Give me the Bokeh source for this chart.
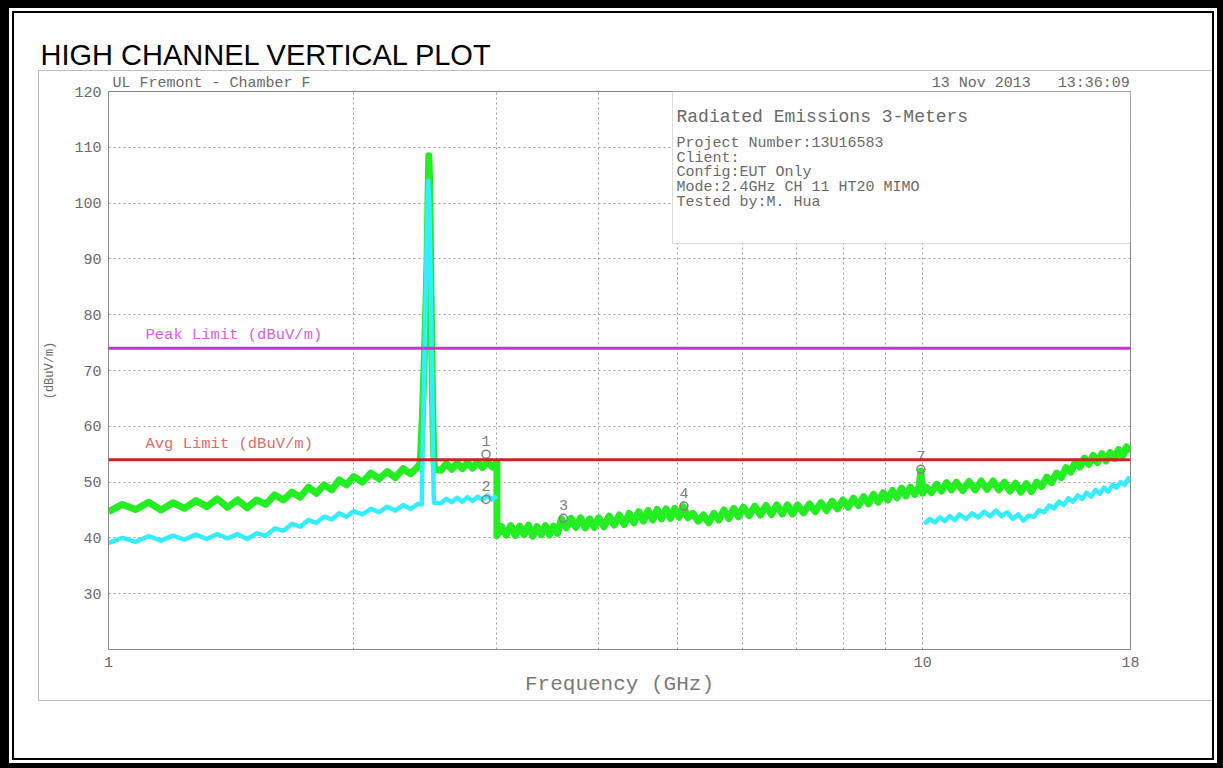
from bokeh.plotting import figure
from bokeh.models import (Range1d, FixedTicker, Label, BoxAnnotation, Span, Title,
                          GlobalInlineStyleSheet)
from bokeh.embed import file_html
from bokeh.resources import INLINE
from bokeh.core.properties import value

# ---------------- data ----------------
# Peak detector trace (green), frequency in GHz, level in dBuV/m
green_freq = [1.00, 1.04, 1.08, 1.12, 1.16, 1.20, 1.24, 1.28, 1.32, 1.36, 1.40, 1.44, 1.48,
              1.52, 1.56, 1.60, 1.64, 1.68, 1.72, 1.76, 1.80, 1.84, 1.88, 1.92, 1.96, 2.00,
              2.05, 2.10, 2.15, 2.20, 2.25, 2.30, 2.35, 2.40,
              2.415, 2.43, 2.445, 2.455, 2.462, 2.468, 2.474, 2.480, 2.488, 2.496, 2.504, 2.512, 2.52,
              2.56, 2.60, 2.64, 2.68, 2.72, 2.76, 2.80, 2.84, 2.88, 2.92, 2.96, 3.00,
              3.00, 3.04, 3.08, 3.12, 3.16, 3.20, 3.24, 3.28, 3.32, 3.36, 3.40, 3.44, 3.48, 3.52, 3.56,
              3.60, 3.65, 3.70, 3.75, 3.80, 3.85, 3.90, 3.95, 4.00, 4.06, 4.12, 4.18, 4.24, 4.30,
              4.36, 4.42, 4.48, 4.54, 4.60, 4.66, 4.72, 4.78, 4.84, 4.90, 4.96, 5.02, 5.08, 5.15,
              5.22, 5.30, 5.38, 5.46, 5.54, 5.62, 5.70, 5.78, 5.86, 5.94, 6.02, 6.12, 6.22, 6.32,
              6.42, 6.52, 6.62, 6.72, 6.82, 6.92, 7.02, 7.14, 7.26, 7.38, 7.50, 7.62, 7.74, 7.86,
              7.98, 8.10, 8.22, 8.34, 8.46, 8.58, 8.70, 8.82, 8.94, 9.06, 9.18, 9.30, 9.42, 9.54,
              9.66, 9.78, 9.90, 9.95, 10.00, 10.10, 10.25, 10.40, 10.55, 10.70, 10.85, 11.00,
              11.20, 11.40, 11.60, 11.80, 12.00, 12.20, 12.40, 12.60, 12.80, 13.00, 13.20, 13.40,
              13.60, 13.80, 14.00, 14.20, 14.40, 14.60, 14.80, 15.00, 15.20, 15.40, 15.60, 15.80,
              16.00, 16.20, 16.40, 16.60, 16.80, 17.00, 17.20, 17.40, 17.60, 17.80, 18.00]
green_level = [44.7, 46.0, 45.1, 46.4, 45.0, 46.3, 45.3, 46.7, 45.6, 47.0, 45.5, 46.8, 45.4,
               46.8, 46.0, 47.7, 46.8, 48.2, 47.3, 49.1, 48.0, 49.5, 48.6, 50.4, 49.5, 51.0,
               50.0, 51.6, 50.6, 51.9, 50.8, 52.4, 51.5, 52.8,
               53.5, 62.0, 74.0, 82.5, 90.0, 100.0, 108.5, 104.0, 88.0, 72.0, 60.0, 53.0, 52.3,
               52.1, 53.3, 52.3, 53.4, 52.4, 53.5, 52.5, 53.6, 52.6, 53.7, 52.7, 53.5,
               40.4, 42.0, 40.5, 42.2, 40.4, 42.1, 40.6, 42.3, 40.3, 42.0, 40.6, 42.2, 40.5, 42.1, 40.8,
               43.4, 41.8, 43.5, 41.9, 43.6, 41.8, 43.4, 41.9, 43.6, 42.0, 43.9, 42.3, 44.1, 42.4,
               44.4, 42.7, 44.7, 43.0, 44.9, 43.2, 45.1, 43.4, 45.2, 43.5, 45.3, 43.7, 45.6, 43.6,
               44.4, 43.0, 44.1, 42.7, 44.4, 43.2, 45.0, 43.5, 45.3, 43.8, 45.5, 44.0, 45.7, 44.1,
               45.8, 44.2, 45.9, 44.3, 45.9, 44.3, 45.9, 44.5, 46.1, 44.7, 46.3, 44.9, 46.6, 45.2,
               46.8, 45.5, 47.1, 45.8, 47.4, 46.1, 47.8, 46.4, 48.1, 46.8, 48.5, 47.2, 48.9, 47.5,
               49.1, 47.8, 49.2, 52.0, 48.0, 49.1, 48.1, 49.6, 48.4, 49.9, 48.6, 50.0,
               48.5, 50.1, 48.6, 50.2, 48.7, 50.2, 48.6, 50.0, 48.4, 49.8, 48.2, 49.7,
               48.3, 50.0, 49.2, 50.9, 49.9, 51.6, 50.8, 52.6, 51.8, 53.6, 52.7, 54.3,
               53.2, 54.8, 53.5, 55.1, 53.8, 55.3, 54.2, 55.8, 54.6, 56.3, 55.5]

# Average detector trace (cyan), 1-3 GHz part
cyan_low_freq = [1.00, 1.04, 1.08, 1.12, 1.16, 1.20, 1.24, 1.28, 1.32, 1.36, 1.40, 1.44, 1.48,
                 1.52, 1.56, 1.60, 1.64, 1.68, 1.72, 1.76, 1.80, 1.84, 1.88, 1.92, 1.96, 2.00,
                 2.05, 2.10, 2.15, 2.20, 2.25, 2.30, 2.35, 2.40,
                 2.425, 2.435, 2.450, 2.462, 2.470, 2.478, 2.488, 2.498, 2.508, 2.512,
                 2.56, 2.60, 2.64, 2.68, 2.72, 2.76, 2.80, 2.84, 2.88, 2.92, 2.96, 3.00]
cyan_low_level = [39.1, 40.0, 39.3, 40.3, 39.5, 40.4, 39.7, 40.6, 39.8, 40.7, 39.9, 40.7, 39.8,
                  40.8, 40.4, 41.7, 41.3, 42.5, 42.0, 43.2, 42.7, 43.8, 43.3, 44.4, 43.8, 44.8,
                  44.2, 45.2, 44.6, 45.6, 44.9, 45.9, 45.2, 46.1,
                  46.0, 60.0, 80.0, 96.0, 104.0, 100.0, 84.0, 66.0, 48.0, 46.3,
                  46.2, 47.0, 46.4, 47.2, 46.5, 47.3, 46.6, 47.4, 46.8, 47.6, 46.9, 47.5]

# Average detector trace (cyan), 10-18 GHz part
cyan_high_freq = [10.05, 10.20, 10.35, 10.50, 10.65, 10.80, 10.95, 11.10, 11.30, 11.50, 11.70,
                  11.90, 12.10, 12.30, 12.50, 12.70, 12.90, 13.10, 13.30, 13.50, 13.70, 13.90,
                  14.10, 14.30, 14.50, 14.70, 14.90, 15.10, 15.30, 15.50, 15.70, 15.90, 16.10,
                  16.30, 16.50, 16.70, 16.90, 17.10, 17.30, 17.50, 17.70, 17.90, 18.00]
cyan_high_level = [42.5, 43.4, 42.8, 43.7, 43.0, 43.9, 43.2, 44.2, 43.4, 44.4, 43.7,
                   44.7, 43.9, 44.9, 43.9, 44.6, 43.4, 44.2, 43.1, 44.0, 43.8, 45.0,
                   44.6, 45.8, 45.3, 46.5, 45.9, 47.1, 46.5, 47.6, 47.0, 48.1, 47.4,
                   48.6, 47.9, 49.0, 48.3, 49.5, 49.0, 50.0, 49.5, 50.7, 50.2]

peak_limit = 74.0
avg_limit = 54.0

marker_id = ["1", "2", "3", "4", "7"]
marker_freq = [2.909, 2.909, 3.62, 5.09, 9.95]
marker_level = [55.0, 46.9, 43.5, 45.7, 52.3]

y_ticks = [30, 40, 50, 60, 70, 80, 90, 100, 110, 120]
y_grid = [30, 40, 50, 60, 70, 80, 90, 100, 110]
x_ticks = [1, 10, 18]
x_tick_labels = {1: "1", 10: "10", 18: "18"}
x_grid = [2, 3, 4, 5, 6, 7, 8, 9, 10]

page_title = "HIGH CHANNEL VERTICAL PLOT"
site_text = "UL Fremont - Chamber F"
date_text = "13 Nov 2013   13:36:09"
info_title = "Radiated Emissions 3-Meters"
info_lines = ["Project Number:13U16583", "Client:", "Config:EUT Only",
              "Mode:2.4GHz CH 11 HT20 MIMO", "Tested by:M. Hua"]

# ---------------- figure ----------------
MONO = "Liberation Mono"
GREY = "#6a6a6a"
NB = "\u00a0"

page_css = """
body { margin: 0 !important; overflow: hidden; }
body::before { content: ""; position: fixed; left: 0; top: 0; width: 1223px; height: 768px;
  box-sizing: border-box; border-style: solid; border-color: #000;
  border-width: 8px 6px 5px 9px;
  box-shadow: inset 0 0 0 3px #fff, inset 0 0 0 5px #000;
  pointer-events: none; z-index: 1000; }
body::after { content: ""; position: fixed; left: 38px; top: 70px; width: 1176px; height: 631px;
  box-sizing: border-box; border: 1px solid #bdbdbd; pointer-events: none; z-index: 999; }
"""

p = figure(width=1223, height=768, x_axis_type="log",
           x_range=Range1d(1, 18), y_range=Range1d(20, 120),
           output_backend="svg", toolbar_location=None,
           min_border_left=108, min_border_right=93,
           min_border_top=91, min_border_bottom=119)
p.stylesheets = [GlobalInlineStyleSheet(css=page_css)]
p.background_fill_color = "white"
p.border_fill_color = "white"
p.outline_line_color = "#8a8a8a"
p.outline_line_width = 1

# header rows (above the frame): first added sits next to the frame
header = site_text + NB * (113 - len(site_text) - len(date_text)) + date_text.replace(" ", NB)
p.add_layout(Title(text=header, align="left", offset=4, standoff=0, vertical_align="bottom",
                   text_font=MONO, text_font_size="15px", text_color=GREY,
                   text_font_style="normal"), "above")
p.add_layout(Title(text=page_title, align="left", offset=-68, standoff=3, vertical_align="bottom",
                   text_font="Liberation Sans", text_font_size="29px", text_color="black",
                   text_font_style="normal"), "above")

# axes
p.xaxis.ticker = FixedTicker(ticks=x_ticks)
p.xaxis.major_label_overrides = x_tick_labels
p.yaxis.ticker = FixedTicker(ticks=y_ticks)
for ax in (p.xaxis[0], p.yaxis[0]):
    ax.axis_line_color = "#8a8a8a"
    ax.major_tick_line_color = None
    ax.minor_tick_line_color = None
    ax.major_tick_out = 0
    ax.major_tick_in = 0
    ax.minor_tick_out = 0
    ax.minor_tick_in = 0
    ax.major_label_text_font = MONO
    ax.major_label_text_font_size = "15px"
    ax.major_label_text_color = GREY
    ax.axis_label_text_font = MONO
    ax.axis_label_text_font_style = "normal"
    ax.axis_label_text_color = GREY
p.xaxis.major_label_standoff = 7
p.yaxis.major_label_standoff = 7
p.xaxis.axis_label = "Frequency (GHz)"
p.xaxis.axis_label_text_font_size = "21px"
p.xaxis.axis_label_text_color = "#7a7a7a"
p.xaxis.axis_label_standoff = 3
p.yaxis.axis_label = "(dBuV/m)"
p.yaxis.axis_label_text_font_size = "12px"
p.yaxis.axis_label_standoff = 14

# grid
p.xgrid.ticker = FixedTicker(ticks=x_grid)
p.ygrid.ticker = FixedTicker(ticks=y_grid)
for g in (p.xgrid[0], p.ygrid[0]):
    g.grid_line_color = "#9a9a9a"
    g.grid_line_dash = "2 3"
    g.grid_line_width = 1

# traces
p.line(green_freq, green_level, line_color="#22ee22", line_width=7, line_join="round")
p.line(cyan_low_freq, cyan_low_level, line_color="#33eeff", line_width=4.5, line_join="round")
p.line(cyan_high_freq, cyan_high_level, line_color="#33eeff", line_width=4.5, line_join="round")

# limits
p.add_layout(Span(location=peak_limit, dimension="width", line_color="#cc33cc", line_width=3))
p.add_layout(Span(location=avg_limit, dimension="width", line_color="#cc2222", line_width=3))

# markers
p.scatter(marker_freq, marker_level, marker="circle", size=8, fill_color=None,
          line_color="#808080", line_width=1.5)
p.text(x=marker_freq, y=marker_level, text=marker_id, y_offset=-13,
       text_font=value(MONO), text_font_size="15px", text_color="#808080",
       text_align="center", text_baseline="middle")


def clabel(x, y, text, size="15px", color=GREY, font=MONO, align="left"):
    p.add_layout(Label(x=x, y=y, x_units="canvas", y_units="canvas", text=text,
                       text_font=font, text_font_size=size, text_color=color,
                       text_align=align, text_baseline="alphabetic"))


# info box (inside the frame, top right)
p.add_layout(BoxAnnotation(left=672, right=1130, top=91, bottom=243,
                           left_units="canvas", right_units="canvas",
                           top_units="canvas", bottom_units="canvas",
                           fill_color="white", fill_alpha=1.0,
                           line_color="#8a8a8a", line_width=1))
clabel(676, 116, info_title, size="18px")
for i, t in enumerate(info_lines):
    clabel(676, 142.7 + i * 14.8, t)

# limit captions
clabel(145, 334, "Peak Limit (dBuV/m)", size="15.5px", color="#e05ce0")
clabel(145, 443, "Avg Limit (dBuV/m)", size="15.5px", color="#e06a6a")

open("out.html", "w").write(file_html(p, INLINE, title=page_title))
